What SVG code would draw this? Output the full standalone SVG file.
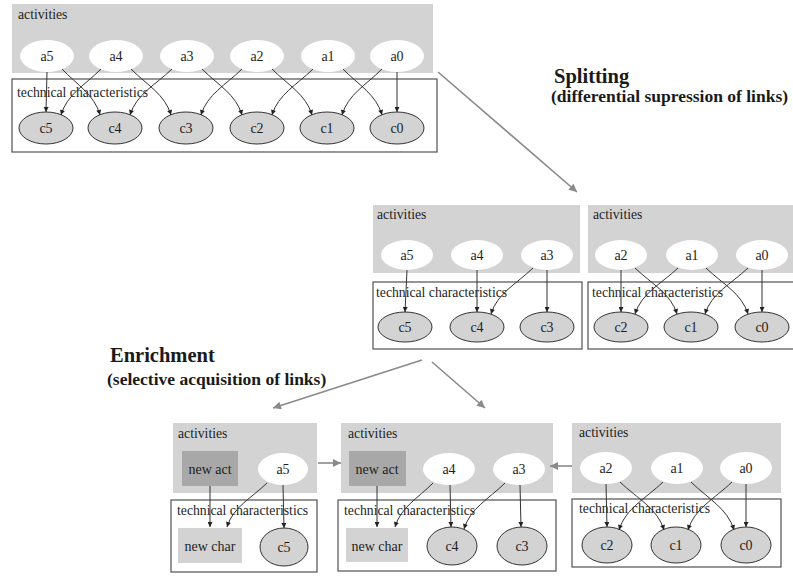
<svg xmlns="http://www.w3.org/2000/svg" width="793" height="576" viewBox="0 0 793 576">
<style>
.bg{fill:#fff}
.act{fill:#d3d3d3;stroke:none}
.tech{fill:#fff;stroke:#505050;stroke-width:1.2}
.an{fill:#fff;stroke:none}
.cn{fill:#d3d3d3;stroke:#333;stroke-width:1}
.na{fill:#a8a8a8;stroke:none}
.nc{fill:#d3d3d3;stroke:none}
.lbl{font-family:"Liberation Serif","Times New Roman",serif;font-size:13.7px;fill:#1e1e1e}
.nl{font-family:"Liberation Serif","Times New Roman",serif;font-size:14px;fill:#1e1e1e;text-anchor:middle;dominant-baseline:central}
.h1{font-family:"Liberation Serif","Times New Roman",serif;font-size:20.5px;font-weight:bold;fill:#1a1a1a}
.h2{font-family:"Liberation Serif","Times New Roman",serif;font-size:17.5px;font-weight:bold;fill:#1a1a1a}
.e{fill:none;stroke:#333;stroke-width:1;marker-end:url(#ah)}
.big{fill:none;stroke:#8a8a8a;stroke-width:1.6;marker-end:url(#bh)}
</style>
<defs>
<marker id="ah" viewBox="0 0 10 10" refX="10" refY="5" markerWidth="7" markerHeight="5" markerUnits="userSpaceOnUse" orient="auto">
<path d="M0,0 L10,5 L0,10 z" fill="#222"/>
</marker>
<marker id="bh" viewBox="0 0 10 10" refX="10" refY="5" markerWidth="14" markerHeight="8" markerUnits="userSpaceOnUse" orient="auto">
<path d="M0,0 L10,5 L0,10 z" fill="#8a8a8a"/>
</marker>
</defs>
<rect class="bg" x="0" y="0" width="793" height="576"/>

<!-- ===== TOP ===== -->
<g id="top-activities">
<rect class="act" x="12" y="4" width="421" height="69"/>
<text class="lbl" x="18" y="19">activities</text>
</g>
<g id="top-tech">
<rect class="tech" x="12" y="79" width="425" height="73"/>
<text class="lbl" x="17" y="97">technical characteristics</text>
</g>
<g id="t-a5"><ellipse class="an" cx="47" cy="56" rx="27" ry="16"/><text class="nl" x="47" y="56">a5</text></g>
<g id="t-a4"><ellipse class="an" cx="116" cy="56" rx="27" ry="16"/><text class="nl" x="116" y="56">a4</text></g>
<g id="t-a3"><ellipse class="an" cx="187" cy="56" rx="27" ry="16"/><text class="nl" x="187" y="56">a3</text></g>
<g id="t-a2"><ellipse class="an" cx="257" cy="56" rx="27" ry="16"/><text class="nl" x="257" y="56">a2</text></g>
<g id="t-a1"><ellipse class="an" cx="328" cy="56" rx="27" ry="16"/><text class="nl" x="328" y="56">a1</text></g>
<g id="t-a0"><ellipse class="an" cx="397" cy="56" rx="27" ry="16"/><text class="nl" x="397" y="56">a0</text></g>
<g id="t-c5"><ellipse class="cn" cx="46" cy="128" rx="27" ry="16"/><text class="nl" x="46" y="128">c5</text></g>
<g id="t-c4"><ellipse class="cn" cx="115" cy="128" rx="27" ry="16"/><text class="nl" x="115" y="128">c4</text></g>
<g id="t-c3"><ellipse class="cn" cx="186" cy="128" rx="27" ry="16"/><text class="nl" x="186" y="128">c3</text></g>
<g id="t-c2"><ellipse class="cn" cx="257" cy="128" rx="27" ry="16"/><text class="nl" x="257" y="128">c2</text></g>
<g id="t-c1"><ellipse class="cn" cx="327" cy="128" rx="27" ry="16"/><text class="nl" x="327" y="128">c1</text></g>
<g id="t-c0"><ellipse class="cn" cx="397" cy="128" rx="27" ry="16"/><text class="nl" x="397" y="128">c0</text></g>

<!-- ===== MIDDLE ===== -->
<g id="m1-activities">
<rect class="act" x="373" y="205" width="207" height="68"/>
<text class="lbl" x="377" y="219">activities</text>
</g>
<g id="m1-tech">
<rect class="tech" x="373" y="282" width="209" height="67"/>
<text class="lbl" x="376" y="297">technical characteristics</text>
</g>
<g id="m2-activities">
<rect class="act" x="588" y="205" width="205" height="68"/>
<text class="lbl" x="593" y="219">activities</text>
</g>
<g id="m2-tech">
<rect class="tech" x="588" y="282" width="210" height="67"/>
<text class="lbl" x="592" y="297">technical characteristics</text>
</g>
<g id="m-a5"><ellipse class="an" cx="407" cy="255" rx="26" ry="15"/><text class="nl" x="407" y="255">a5</text></g>
<g id="m-a4"><ellipse class="an" cx="477" cy="255" rx="26" ry="15"/><text class="nl" x="477" y="255">a4</text></g>
<g id="m-a3"><ellipse class="an" cx="547" cy="255" rx="26" ry="15"/><text class="nl" x="547" y="255">a3</text></g>
<g id="m-a2"><ellipse class="an" cx="621" cy="255" rx="26" ry="15"/><text class="nl" x="621" y="255">a2</text></g>
<g id="m-a1"><ellipse class="an" cx="692" cy="255" rx="26" ry="15"/><text class="nl" x="692" y="255">a1</text></g>
<g id="m-a0"><ellipse class="an" cx="762" cy="255" rx="26" ry="15"/><text class="nl" x="762" y="255">a0</text></g>
<g id="m-c5"><ellipse class="cn" cx="405" cy="327" rx="27" ry="15"/><text class="nl" x="405" y="327">c5</text></g>
<g id="m-c4"><ellipse class="cn" cx="477" cy="327" rx="27" ry="15"/><text class="nl" x="477" y="327">c4</text></g>
<g id="m-c3"><ellipse class="cn" cx="547" cy="327" rx="27" ry="15"/><text class="nl" x="547" y="327">c3</text></g>
<g id="m-c2"><ellipse class="cn" cx="621" cy="327" rx="27" ry="15"/><text class="nl" x="621" y="327">c2</text></g>
<g id="m-c1"><ellipse class="cn" cx="691" cy="327" rx="27" ry="15"/><text class="nl" x="691" y="327">c1</text></g>
<g id="m-c0"><ellipse class="cn" cx="762" cy="327" rx="27" ry="15"/><text class="nl" x="762" y="327">c0</text></g>

<!-- ===== BOTTOM ===== -->
<g id="b1-activities">
<rect class="act" x="173" y="423" width="144" height="70"/>
<text class="lbl" x="178" y="438">activities</text>
</g>
<g id="b1-tech">
<rect class="tech" x="171" y="500" width="146" height="72"/>
<text class="lbl" x="177" y="515">technical characteristics</text>
</g>
<g id="b2-activities">
<rect class="act" x="341" y="423" width="212" height="70"/>
<text class="lbl" x="348" y="438">activities</text>
</g>
<g id="b2-tech">
<rect class="tech" x="338" y="500" width="218" height="71"/>
<text class="lbl" x="344" y="515">technical characteristics</text>
</g>
<g id="b3-activities">
<rect class="act" x="572" y="423" width="209" height="70"/>
<text class="lbl" x="579" y="437">activities</text>
</g>
<g id="b3-tech">
<rect class="tech" x="572" y="499" width="209" height="68"/>
<text class="lbl" x="579" y="513">technical characteristics</text>
</g>
<g id="b1-newact"><rect class="na" x="182" y="451" width="56" height="35"/><text class="nl" x="210" y="469">new act</text></g>
<g id="b1-a5"><ellipse class="an" cx="283" cy="469" rx="25" ry="16"/><text class="nl" x="283" y="469">a5</text></g>
<g id="b1-newchar"><rect class="nc" x="178" y="528" width="64" height="35"/><text class="nl" x="210" y="546">new char</text></g>
<g id="b1-c5"><ellipse class="cn" cx="284" cy="547" rx="24" ry="19"/><text class="nl" x="284" y="547">c5</text></g>

<g id="b2-newact"><rect class="na" x="349" y="451" width="57" height="35"/><text class="nl" x="377" y="469">new act</text></g>
<g id="b2-a4"><ellipse class="an" cx="449" cy="469" rx="26" ry="16"/><text class="nl" x="449" y="469">a4</text></g>
<g id="b2-a3"><ellipse class="an" cx="519" cy="469" rx="26" ry="16"/><text class="nl" x="519" y="469">a3</text></g>
<g id="b2-newchar"><rect class="nc" x="346" y="528" width="62" height="34"/><text class="nl" x="377" y="546">new char</text></g>
<g id="b2-c4"><ellipse class="cn" cx="452" cy="546" rx="25" ry="19"/><text class="nl" x="452" y="546">c4</text></g>
<g id="b2-c3"><ellipse class="cn" cx="522" cy="546" rx="25" ry="19"/><text class="nl" x="522" y="546">c3</text></g>

<g id="b3-a2"><ellipse class="an" cx="606" cy="468" rx="26" ry="16"/><text class="nl" x="606" y="468">a2</text></g>
<g id="b3-a1"><ellipse class="an" cx="677" cy="468" rx="26" ry="16"/><text class="nl" x="677" y="468">a1</text></g>
<g id="b3-a0"><ellipse class="an" cx="746" cy="468" rx="26" ry="16"/><text class="nl" x="746" y="468">a0</text></g>
<g id="b3-c2"><ellipse class="cn" cx="607" cy="545" rx="25" ry="18"/><text class="nl" x="607" y="545">c2</text></g>
<g id="b3-c1"><ellipse class="cn" cx="676" cy="545" rx="25" ry="18"/><text class="nl" x="676" y="545">c1</text></g>
<g id="b3-c0"><ellipse class="cn" cx="746" cy="545" rx="25" ry="18"/><text class="nl" x="746" y="545">c0</text></g>

<!-- ===== Headings ===== -->
<g id="splitting-label">
<text class="h1" x="554" y="83">Splitting</text>
<text class="h2" x="551" y="102">(differential supression of links)</text>
</g>
<g id="enrichment-label">
<text class="h1" x="110" y="362">Enrichment</text>
<text class="h2" x="107" y="385">(selective acquisition of links)</text>
</g>

<!-- ===== Connectors ===== -->
<g id="connectors">
<!-- top -->
<path class="e" d="M47,72 L46,112"/>
<path class="e" d="M62,69 C77.2,85.1 94.3,94.3 100,115"/>
<path class="e" d="M101,69 C85,85.1 67,94.3 61,115"/>
<path class="e" d="M131,69 C147,85.1 165,94.3 171,115"/>
<path class="e" d="M172,69 C155.2,85.1 136.3,94.3 130,115"/>
<path class="e" d="M202,69 C218,85.1 236,94.3 242,115"/>
<path class="e" d="M242,69 C225.6,85.1 207.2,94.3 201,115"/>
<path class="e" d="M272,69 C288,85.1 306,94.3 312,115"/>
<path class="e" d="M313,69 C296.6,85.1 278.2,94.3 272,115"/>
<path class="e" d="M343,69 C358.6,85.1 376.2,94.3 382,115"/>
<path class="e" d="M382,69 C366,85.1 348,94.3 342,115"/>
<path class="e" d="M397,72 L397,112"/>
<!-- middle -->
<path class="e" d="M407,270 L405,312"/>
<path class="e" d="M477,270 L477,312"/>
<path class="e" d="M533,268 C516.2,284.1 497.3,293.3 491,314"/>
<path class="e" d="M547,270 L547,312"/>
<path class="e" d="M621,270 L621,312"/>
<path class="e" d="M635,268 C651.8,284.1 670.7,293.3 677,314"/>
<path class="e" d="M678,268 C660.8,284.1 641.5,293.3 635,314"/>
<path class="e" d="M706,268 C722.8,284.1 741.7,293.3 748,314"/>
<path class="e" d="M748,268 C730.8,284.1 711.5,293.3 705,314"/>
<path class="e" d="M762,270 L762,312"/>
<!-- bottom left -->
<path class="e" d="M210,486 L210,527"/>
<path class="e" d="M267,483 C251,498.4 233,507.2 227,527"/>
<path class="e" d="M283,485 L284,528"/>
<!-- bottom middle -->
<path class="e" d="M377,486 L377,527"/>
<path class="e" d="M433,483 C417.8,498.4 400.7,507.2 395,527"/>
<path class="e" d="M450,485 L451,527"/>
<path class="e" d="M505,483 C488.6,499.1 470.2,508.3 464,529"/>
<path class="e" d="M520,485 L521,527"/>
<!-- bottom right -->
<path class="e" d="M606,484 L607,527"/>
<path class="e" d="M620,482 C637.6,498.8 657.4,508.4 664,530"/>
<path class="e" d="M663,482 C645.4,498.8 625.6,508.4 619,530"/>
<path class="e" d="M691,482 C708.2,498.8 727.6,508.4 734,530"/>
<path class="e" d="M732,482 C714.4,498.8 694.6,508.4 688,530"/>
<path class="e" d="M746,484 L746,527"/>
<!-- big transformation arrows -->
<path class="big" d="M438,72 L577,192"/>
<path class="big" d="M422,360 L273,408"/>
<path class="big" d="M432,362 L485,408"/>
<path class="big" d="M318,463 L341,463"/>
<path class="big" d="M572,466 L550,466"/>
</g>
</svg>
